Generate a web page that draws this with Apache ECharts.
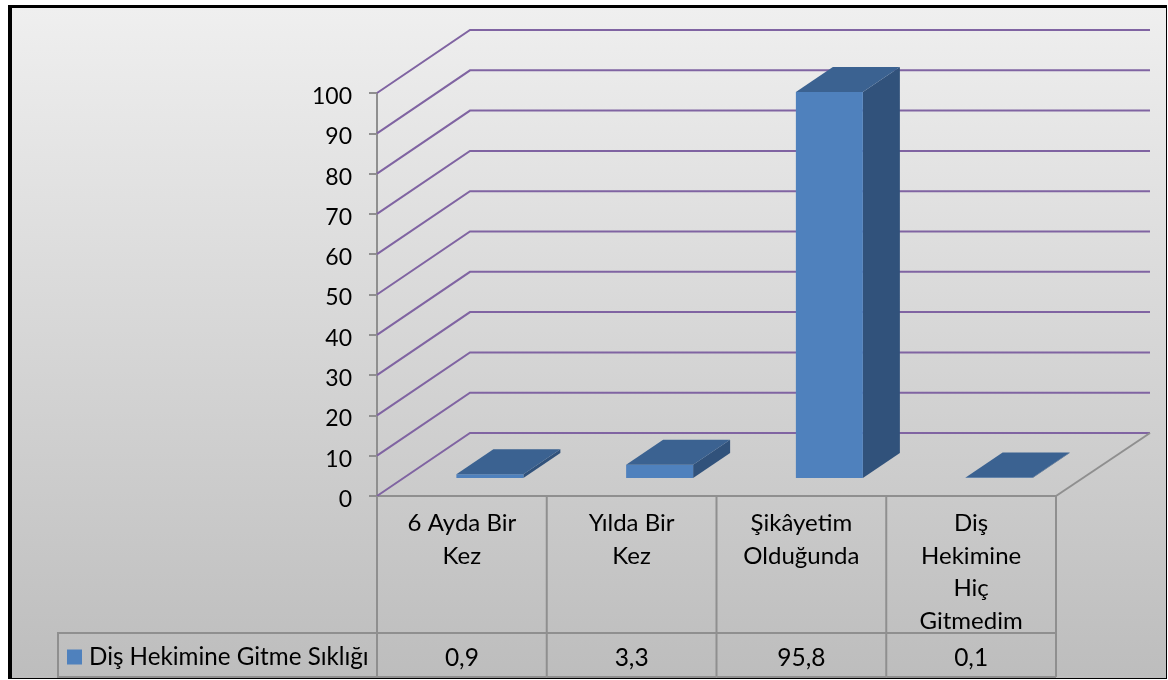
<!DOCTYPE html>
<html><head><meta charset="utf-8">
<style>html,body{margin:0;padding:0;background:#fff}#c{width:1168px;height:680px}</style>
<script src="https://cdn.jsdelivr.net/npm/echarts@6/dist/echarts.min.js"></script>
</head><body><div id="c"></div>
<script>
const categories = ['6 Ayda Bir\nKez', 'Yılda Bir\nKez', 'Şikâyetim\nOlduğunda', 'Diş\nHekimine\nHiç\nGitmedim'];
const values = [0.9, 3.3, 95.8, 0.1];
const valueLabels = ['0,9', '3,3', '95,8', '0,1'];
const yTicks = [0, 10, 20, 30, 40, 50, 60, 70, 80, 90, 100];
const seriesName = 'Diş Hekimine Gitme Sıklığı';

const FONT = 'Lato';
const GRAY = '#8f8f8f';
const WALL = [93, -63], WALL_END = 1150;
const BAR_W = 67, BAR_OFF = [28, -18], BAR_D = [37, -25];
const ROW1 = 633, ROW2 = 677, LEG_X = 58;

const chart = echarts.init(document.getElementById('c'), null, {renderer: 'canvas'});
const poly = (points, fill, z2) => ({type: 'polygon', shape: {points}, style: {fill}, z2: z2 || 0});

chart.setOption({
  animation: false,
  backgroundColor: '#fff',
  graphic: [
    {type: 'rect', z: -10, shape: {x: 8, y: 5, width: 1159, height: 674}, style: {fill: '#000'}},
    {type: 'rect', z: -9, shape: {x: 12, y: 8, width: 1154, height: 670}, style: {
      fill: {type: 'linear', x: 0, y: 0, x2: 0, y2: 1, colorStops: [{offset: 0, color: '#efefef'}, {offset: 1, color: '#bdbdbd'}]}
    }}
  ],
  grid: {left: 377, top: 93, width: 679, height: 403, containLabel: false},
  legend: {
    left: 67, top: 645, padding: 0, itemWidth: 15, itemHeight: 15, itemGap: 0, icon: 'rect',
    textStyle: {fontFamily: FONT, fontSize: 24.2, color: '#000', padding: [0, 0, 0, 2]},
    data: [seriesName]
  },
  xAxis: {
    type: 'category', data: categories, boundaryGap: true,
    axisLine: {show: true, lineStyle: {color: GRAY, width: 2}},
    axisTick: {show: false},
    axisLabel: {interval: 0, margin: 11, fontFamily: FONT, fontSize: 24, lineHeight: 32.7, color: '#000', align: 'center', verticalAlign: 'top'}
  },
  yAxis: {
    type: 'value', min: 0, max: 100, interval: 10,
    axisLine: {show: true, lineStyle: {color: GRAY, width: 2}},
    axisTick: {show: true, length: 8, lineStyle: {color: GRAY, width: 2}},
    axisLabel: {
      margin: 25, color: '#000', formatter: '{n|{value}}',
      rich: {n: {fontFamily: FONT, fontSize: 23, color: '#000', padding: [7, 0, 0, 0]}}
    },
    splitLine: {show: false}
  },
  series: [
    {
      type: 'custom', name: 'walls', coordinateSystem: 'cartesian2d', silent: true, z: 1,
      data: yTicks.map(v => [0, v]),
      encode: {x: 0, y: 1},
      renderItem(params, api) {
        const p = api.coord([0, api.value(1)]);
        const y = p[1], x0 = 377;
        const children = [{
          type: 'polyline',
          shape: {points: [[x0, y], [x0 + WALL[0], y + WALL[1]], [WALL_END, y + WALL[1]]]},
          style: {stroke: '#8064a2', lineWidth: 2, fill: null}
        }];
        if (api.value(1) === 0) {
          children.push({type: 'line', shape: {x1: 1056, y1: y, x2: WALL_END, y2: y + WALL[1]}, style: {stroke: GRAY, lineWidth: 2}});
        }
        return {type: 'group', children};
      }
    },
    {
      type: 'custom', name: seriesName, coordinateSystem: 'cartesian2d', silent: true, z: 3,
      itemStyle: {color: '#4f81bd'},
      data: categories.map((c, i) => [i, values[i]]),
      encode: {x: 0, y: 1},
      renderItem(params, api) {
        const i = api.value(0), v = api.value(1);
        const base = api.coord([i, 0]), top = api.coord([i, v]);
        const xl = base[0] + BAR_OFF[0] - BAR_W / 2, xr = xl + BAR_W;
        const yb = base[1] + BAR_OFF[1], yt = top[1] + BAR_OFF[1];
        const [dx, dy] = BAR_D;
        return {type: 'group', children: [
          poly([[xr, yb], [xr + dx, yb + dy], [xr + dx, yt + dy], [xr, yt]], '#31527b'),
          poly([[xl, yb], [xr, yb], [xr, yt], [xl, yt]], '#4f81bd'),
          poly([[xl, yt], [xr, yt], [xr + dx, yt + dy], [xl + dx, yt + dy]], '#3b6291')
        ]};
      }
    },
    {
      type: 'custom', name: 'table', coordinateSystem: 'cartesian2d', silent: true, z: 2,
      data: categories.map((c, i) => [i, valueLabels[i]]),
      encode: {x: 0},
      renderItem(params, api) {
        const i = api.value(0);
        const c = api.coord([i, 0]);
        const band = api.size([1, 0])[0];
        const xr = c[0] + band / 2, xl = c[0] - band / 2;
        const stroke = {stroke: GRAY, lineWidth: 2};
        const children = [
          {type: 'line', shape: {x1: xr, y1: c[1], x2: xr, y2: ROW2}, style: stroke},
          {type: 'text', style: {
            text: valueLabels[i], x: c[0], y: (ROW1 + ROW2) / 2 + 3, align: 'center', verticalAlign: 'middle',
            font: '24.5px ' + FONT, fill: '#000'
          }}
        ];
        if (i === 0) {
          children.push(
            {type: 'line', shape: {x1: xl, y1: c[1], x2: xl, y2: ROW2}, style: stroke},
            {type: 'polyline', shape: {points: [[xl, ROW1], [LEG_X, ROW1], [LEG_X, ROW2], [xl, ROW2]]}, style: {...stroke, fill: null}}
          );
        }
        children.push(
          {type: 'line', shape: {x1: xl, y1: ROW1, x2: xr, y2: ROW1}, style: stroke},
          {type: 'line', shape: {x1: xl, y1: ROW2, x2: xr, y2: ROW2}, style: stroke}
        );
        return {type: 'group', children};
      }
    }
  ]
});
</script></body></html>
